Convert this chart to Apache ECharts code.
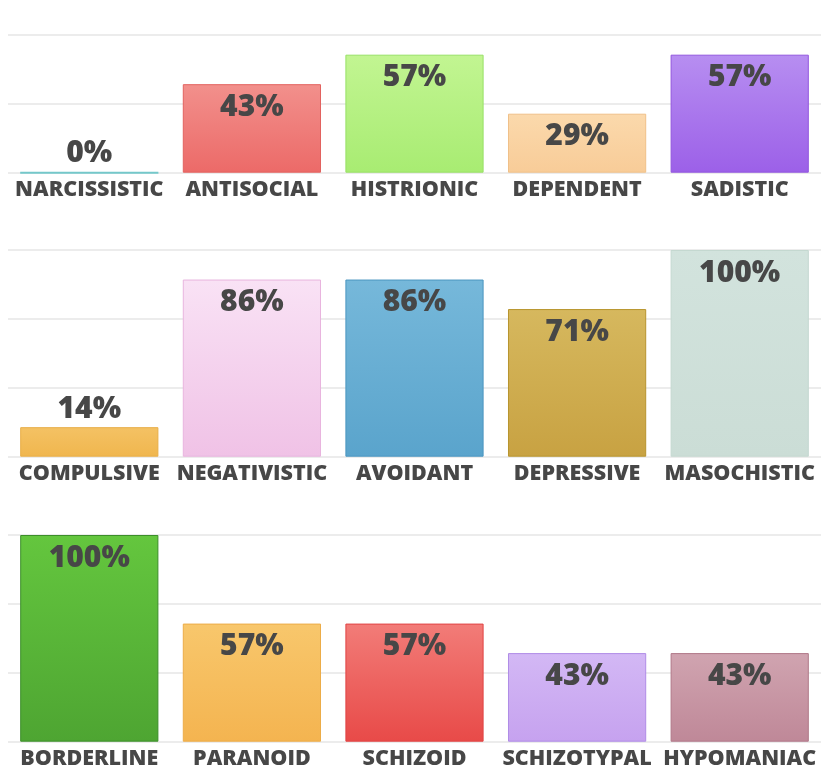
<!DOCTYPE html>
<html>
<head>
<meta charset="utf-8">
<script src="https://cdn.jsdelivr.net/npm/echarts@6/dist/echarts.min.js"></script>
<style>
  html, body { margin: 0; padding: 0; background: #fff; }
  #chart { width: 828px; height: 776px; }
</style>
</head>
<body>
<div id="chart"></div>
<script>
// categories per row
const row1Names = ['NARCISSISTIC', 'ANTISOCIAL', 'HISTRIONIC', 'DEPENDENT', 'SADISTIC'];
const row2Names = ['COMPULSIVE', 'NEGATIVISTIC', 'AVOIDANT', 'DEPRESSIVE', 'MASOCHISTIC'];
const row3Names = ['BORDERLINE', 'PARANOID', 'SCHIZOID', 'SCHIZOTYPAL', 'HYPOMANIAC'];

// percentages
const row1Values = [0, 42.86, 57.14, 28.57, 57.14];
const row2Values = [14.29, 85.71, 85.71, 71.43, 100];
const row3Values = [100, 57.14, 57.14, 42.86, 42.86];

// axis maximum per row
const rowMax = [200 / 3, 100, 100];

// bar colours: [top, bottom, border]
const row1Colors = [
  ['#8fd6d6', '#72c6c8', '#74c8ca'],
  ['#f2908c', '#ec6a68', '#e2625f'],
  ['#c2f592', '#a8ec72', '#98e066'],
  ['#fbd9ac', '#f8cc98', '#f0c088'],
  ['#b78ef1', '#9c60e8', '#9256de']
];
const row2Colors = [
  ['#f4c264', '#f0b64e', '#e8ae48'],
  ['#f9e2f5', '#f0c2e6', '#e8b4de'],
  ['#76b8da', '#5aa4cc', '#4c96c0'],
  ['#d6b85e', '#c8a242', '#b8942e'],
  ['#d2e3dd', '#cbddd6', '#c4d8d0']
];
const row3Colors = [
  ['#64c63e', '#4ea532', '#3c8e2a'],
  ['#f8c76c', '#f4b450', '#ecac48'],
  ['#f27c78', '#e84a48', '#e04444'],
  ['#d3b8f5', '#c6a2ef', '#b08ce6'],
  ['#d0a4b0', '#bf8898', '#b07888']
];

const names = [row1Names, row2Names, row3Names];
const values = [row1Values, row2Values, row3Values];
const colors = [row1Colors, row2Colors, row3Colors];

const gridTops = [35, 250, 535];
const gridHeights = [137.7, 206.7, 206.7];

const textColor = '#474747';
const fontFamily = '"Open Sans", "Noto Sans", sans-serif';

const chart = echarts.init(document.getElementById('chart'));

const grids = [];
const xAxes = [];
const yAxes = [];
const series = [];

for (let r = 0; r < 3; r++) {
  grids.push({ left: 8, right: 7, top: gridTops[r], height: gridHeights[r] });
  xAxes.push({
    type: 'category',
    gridIndex: r,
    data: names[r],
    axisLine: { show: false },
    axisTick: { show: false },
    axisLabel: {
      color: textColor,
      fontFamily: fontFamily,
      fontWeight: 800,
      fontSize: 21.5,
      margin: 6,
      interval: 0
    }
  });
  yAxes.push({
    type: 'value',
    gridIndex: r,
    min: 0,
    max: rowMax[r],
    interval: 100 / 3,
    axisLabel: { show: false },
    axisLine: { show: false },
    axisTick: { show: false },
    splitLine: { lineStyle: { color: '#e6e6e6', width: 1.5 } }
  });
  series.push({
    type: 'bar',
    xAxisIndex: r,
    yAxisIndex: r,
    barWidth: '85%',
    animation: false,
    data: values[r].map((v, i) => ({
      value: v,
      itemStyle: {
        color: new echarts.graphic.LinearGradient(0, 0, 0, 1, [
          { offset: 0, color: colors[r][i][0] },
          { offset: 1, color: colors[r][i][1] }
        ]),
        borderColor: colors[r][i][2],
        borderWidth: v === 0 ? 2 : 1
      },
      label: {
        position: v < 20 ? 'top' : 'insideTop',
        distance: v < 20 ? 3 : 8
      }
    })),
    label: {
      show: true,
      color: textColor,
      fontFamily: fontFamily,
      fontWeight: 800,
      fontSize: 30,
      formatter: (p) => Math.round(p.value) + '%'
    }
  });
}

chart.setOption({
  backgroundColor: '#ffffff',
  grid: grids,
  xAxis: xAxes,
  yAxis: yAxes,
  series: series
});
</script>
</body>
</html>
